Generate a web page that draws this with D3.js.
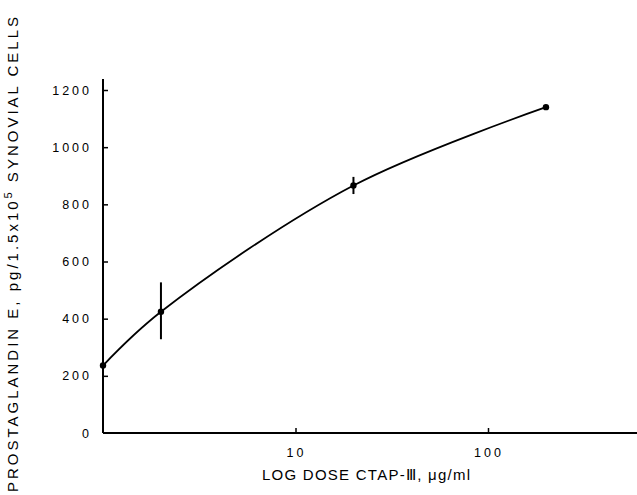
<!DOCTYPE html>
<html><head><meta charset="utf-8">
<script src="https://cdn.jsdelivr.net/npm/d3@7"></script>
<style>body{margin:0;background:#fff}svg{display:block}text{font-family:"Liberation Sans",Arial,sans-serif;fill:#000;white-space:pre}</style>
</head><body>
<script>
const doses = [1, 2, 20, 200];
const pge = [236, 424, 866, 1140];
const errLow = [null, 328, 836, null];
const errHigh = [null, 527, 896, null];
const yTicks = [0, 200, 400, 600, 800, 1000, 1200];
const xTicks = [10, 100];
const yLabelA = "PROSTAGLANDIN E, pg/1.5x10";
const yLabelSup = "5";
const yLabelB = " SYNOVIAL CELLS";
const xLabel = "LOG DOSE CTAP-Ⅲ, μg/ml";

const W = 637, H = 495;
const svg = d3.select("body").append("svg").attr("width", W).attr("height", H);
const x = d3.scaleLog().domain([1, 100]).range([103, 488]);
const y = d3.scaleLinear().domain([0, 1200]).range([433, 90]);
const xMax = x.invert(637);

const g = svg.append("g");
g.append("line").attr("x1", x(1)).attr("x2", x(1)).attr("y1", 79).attr("y2", y(0)).attr("stroke", "#000").attr("stroke-width", 2);
g.append("line").attr("x1", x(1)).attr("x2", x(xMax)).attr("y1", y(0)).attr("y2", y(0)).attr("stroke", "#000").attr("stroke-width", 2);

const yAxis = d3.axisRight(y).tickValues(yTicks.slice(1)).tickSize(5).tickFormat("");
g.append("g").attr("transform", `translate(${x(1)},0)`).call(yAxis)
  .call(s => s.select(".domain").remove())
  .call(s => s.selectAll("line").attr("stroke-width", 1.5));
yTicks.forEach(v => {
  g.append("text").attr("x", 92).attr("y", y(v) + 4.5).attr("text-anchor", "end")
    .attr("font-size", 12.5).attr("letter-spacing", 3).text(String(v));
});
const xAxis = d3.axisTop(x).tickValues(xTicks).tickSize(5).tickFormat("");
g.append("g").attr("transform", `translate(0,${y(0)})`).call(xAxis)
  .call(s => s.select(".domain").remove())
  .call(s => s.selectAll("line").attr("stroke-width", 1.5));
xTicks.forEach(v => {
  g.append("text").attr("x", x(v) + 1).attr("y", 457).attr("text-anchor", "middle")
    .attr("font-size", 12.5).attr("letter-spacing", 3).text(String(v));
});

const yl = svg.append("text").attr("transform", "translate(18,253) rotate(-90)").attr("text-anchor", "middle")
  .attr("font-size", 15).attr("letter-spacing", 3);
yl.append("tspan").text(yLabelA);
yl.append("tspan").attr("font-size", 11).attr("dy", -6).text(yLabelSup);
yl.append("tspan").attr("dy", 6).text(yLabelB);
svg.append("text").attr("x", 262).attr("y", 480)
  .attr("font-size", 15).attr("textLength", 208).attr("lengthAdjust", "spacing").text(xLabel);

const pts = doses.map((d, i) => [x(d), y(pge[i])]);
svg.append("path").attr("d", d3.line().curve(d3.curveCatmullRom.alpha(0.5))(pts))
  .attr("fill", "none").attr("stroke", "#000").attr("stroke-width", 1.8);
doses.forEach((d, i) => {
  if (errLow[i] == null) return;
  svg.append("line").attr("x1", x(d)).attr("x2", x(d)).attr("y1", y(errLow[i])).attr("y2", y(errHigh[i]))
    .attr("stroke", "#000").attr("stroke-width", 2);
});
svg.selectAll("circle.pt").data(doses).enter().append("circle")
  .attr("cx", d => x(d)).attr("cy", (d, i) => y(pge[i])).attr("r", 3.2).attr("fill", "#000");
</script>
</body></html>
